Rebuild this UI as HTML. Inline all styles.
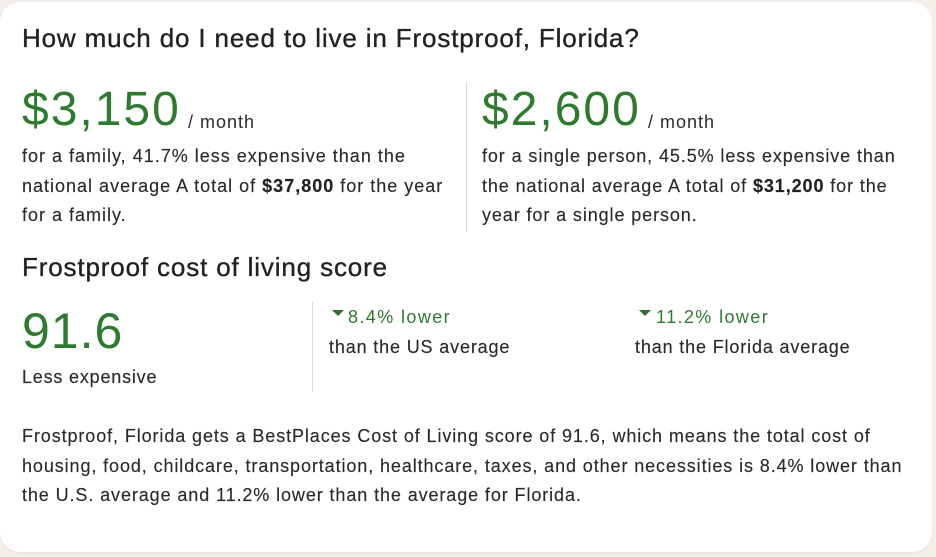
<!DOCTYPE html>
<html><head><meta charset="utf-8">
<style>
html,body{margin:0;padding:0;}
body{width:936px;height:557px;background:#f4efe9;position:relative;overflow:hidden;font-family:"Liberation Sans",sans-serif;color:#2b2b2b;}
.card{position:absolute;left:0;top:2px;width:932px;height:550px;background:#fff;border-radius:20px;box-shadow:0 1px 3px rgba(0,0,0,0.06);}
.t{position:absolute;white-space:nowrap;line-height:1;}
.h{font-size:26px;letter-spacing:0.85px;color:#222;-webkit-text-stroke:0.35px #222;}
.big{font-size:48px;letter-spacing:2px;color:#2e7a2e;}
.mo{font-size:18px;letter-spacing:1px;color:#2b2b2b;}
.p{position:absolute;white-space:nowrap;font-size:18px;line-height:29.5px;letter-spacing:0.9px;color:#2b2b2b;-webkit-text-stroke:0.15px #2b2b2b;}
.p b{font-weight:bold;color:#222;}
.g{font-size:18px;letter-spacing:1.4px;color:#2e7a2e;}
.s{font-size:18px;letter-spacing:0.85px;-webkit-text-stroke:0.15px #2b2b2b;}
.tri{position:absolute;width:0;height:0;border-left:6px solid transparent;border-right:6px solid transparent;border-top:6px solid #2e6e2a;}
.div{position:absolute;width:1px;background:#dcdcdc;}
</style></head><body>
<div class="card"></div>
<div class="t h" style="left:22px;top:25px;">How much do I need to live in Frostproof, Florida?</div>

<div class="t big" style="left:22px;top:86px;">$3,150</div>
<div class="t mo" style="left:188px;top:113px;">/ month</div>
<div class="p" style="left:22px;top:142px;letter-spacing:1px;">for a family, 41.7% less expensive than the<br>national average A total of <b>$37,800</b> for the year<br>for a family.</div>

<div class="div" style="left:466px;top:82px;height:150px;"></div>

<div class="t big" style="left:482px;top:86px;">$2,600</div>
<div class="t mo" style="left:648px;top:113px;">/ month</div>
<div class="p" style="left:482px;top:142px;">for a single person, 45.5% less expensive than<br>the national average A total of <b>$31,200</b> for the<br>year for a single person.</div>

<div class="t h" style="left:22px;top:254px;">Frostproof cost of living score</div>
<div class="t" style="left:22px;top:306px;font-size:50px;letter-spacing:1px;color:#2e7a2e;">91.6</div>
<div class="t s" style="left:22px;top:368px;letter-spacing:0.8px;">Less expensive</div>

<div class="div" style="left:312px;top:302px;height:90px;"></div>

<div class="tri" style="left:332px;top:310px;"></div>
<div class="t g" style="left:348px;top:308px;">8.4% lower</div>
<div class="t s" style="left:329px;top:338px;">than the US average</div>

<div class="tri" style="left:639px;top:310px;"></div>
<div class="t g" style="left:656px;top:308px;">11.2% lower</div>
<div class="t s" style="left:635px;top:338px;">than the Florida average</div>

<div class="p" style="left:22px;top:422px;">Frostproof, Florida gets a BestPlaces Cost of Living score of 91.6, which means the total cost of<br>housing, food, childcare, transportation, healthcare, taxes, and other necessities is 8.4% lower than<br>the U.S. average and 11.2% lower than the average for Florida.</div>
</body></html>
